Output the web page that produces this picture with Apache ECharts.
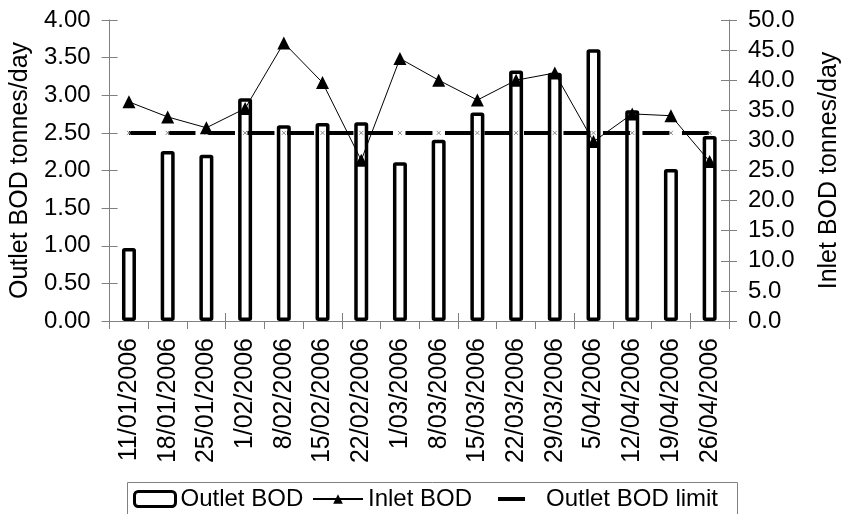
<!DOCTYPE html>
<html>
<head>
<meta charset="utf-8">
<script src="https://cdn.jsdelivr.net/npm/echarts@6/dist/echarts.min.js"></script>
<style>
  html, body { margin: 0; padding: 0; background: #fff; }
  #chart { width: 850px; height: 514px; }
</style>
</head>
<body>
<div id="chart"></div>
<script>
// Weekly sampling dates
const dates = [
  '11/01/2006', '18/01/2006', '25/01/2006', '1/02/2006', '8/02/2006', '15/02/2006',
  '22/02/2006', '1/03/2006', '8/03/2006', '15/03/2006', '22/03/2006', '29/03/2006',
  '5/04/2006', '12/04/2006', '19/04/2006', '26/04/2006'
];
// Outlet BOD, tonnes/day (left axis)
const outletBOD = [0.97, 2.26, 2.21, 2.96, 2.60, 2.63, 2.64, 2.11,
                   2.41, 2.77, 3.33, 3.30, 3.61, 2.80, 2.02, 2.46];
// Inlet BOD, tonnes/day (right axis)
const inletBOD = [36.4, 33.9, 32.1, 35.3, 46.2, 39.6, 26.7, 43.6,
                  40.0, 36.7, 40.0, 41.2, 29.8, 34.4, 34.1, 26.5];
// Outlet BOD limit, tonnes/day
const outletLimit = [2.5, 2.5, 2.5, 2.5, 2.5, 2.5, 2.5, 2.5,
                     2.5, 2.5, 2.5, 2.5, 2.5, 2.5, 2.5, 2.5];
// Axis ranges
const leftAxis = { min: 0, max: 4, interval: 0.5 };
const rightAxis = { min: 0, max: 50, interval: 5 };

const FONT = 'Liberation Sans, Arial, sans-serif';
const GREY = '#808080';

const chart = echarts.init(document.getElementById('chart'), null, { renderer: 'canvas' });

// Two axes on each side: one carries outward ticks, the other inward ticks,
// so every tick mark crosses its axis line.
function yPair(pos, range, decimals, name, nameGap) {
  return [
    {
      type: 'value', position: pos, min: range.min, max: range.max, interval: range.interval,
      name: name, nameLocation: 'middle', nameGap: nameGap, nameRotate: 90,
      nameTextStyle: { fontFamily: FONT, fontSize: 25, color: '#000' },
      axisLine: { show: true, lineStyle: { color: GREY, width: 1 } },
      axisTick: { show: true, inside: false, length: 8, lineStyle: { color: GREY } },
      axisLabel: { margin: 19, fontFamily: FONT, fontSize: 24, color: '#000',
                   formatter: v => v.toFixed(decimals) },
      splitLine: { show: false }
    },
    {
      type: 'value', position: pos, min: range.min, max: range.max, interval: range.interval,
      axisLine: { show: false },
      axisTick: { show: true, inside: true, length: 8, lineStyle: { color: GREY } },
      axisLabel: { show: false },
      splitLine: { show: false }
    }
  ];
}

const option = {
  backgroundColor: '#fff',
  animation: false,
  grid: { left: 109, right: 109, top: 20, bottom: 193, containLabel: false },
  xAxis: [
    {
      type: 'category', data: dates, position: 'bottom', boundaryGap: true,
      axisLine: { show: true, lineStyle: { color: GREY, width: 1 } },
      axisTick: { show: true, inside: false, length: 8, lineStyle: { color: GREY } },
      axisLabel: { rotate: 90, margin: 17, interval: 0, fontFamily: FONT, fontSize: 25, color: '#000' }
    },
    {
      type: 'category', data: dates, position: 'bottom', boundaryGap: true,
      axisLine: { show: false },
      axisTick: { show: true, inside: true, length: 8, lineStyle: { color: GREY } },
      axisLabel: { show: false }
    }
  ],
  yAxis: [
    ...yPair('left', leftAxis, 2, 'Outlet BOD tonnes/day', 66),
    ...yPair('right', rightAxis, 1, 'Inlet BOD tonnes/day', 88)
  ],
  legend: [
    {
      data: ['Outlet BOD'], left: 133, top: 487, padding: 0,
      itemWidth: 41, itemHeight: 15,
      itemStyle: { color: '#fff', borderColor: '#000', borderWidth: 3 },
      textStyle: { fontFamily: FONT, fontSize: 24, color: '#000' }
    },
    {
      data: ['Inlet BOD'], left: 312, top: 487, padding: 0,
      itemWidth: 50, itemHeight: 12,
      textStyle: { fontFamily: FONT, fontSize: 24, color: '#000' }
    },
    {
      data: [{ name: 'Outlet BOD limit', icon: 'rect' }], left: 498, top: 487, padding: 0,
      itemWidth: 27, itemHeight: 4,
      itemStyle: { color: '#000', borderWidth: 0 },
      textStyle: { fontFamily: FONT, fontSize: 24, color: '#000', padding: [0, 0, 0, 16] }
    }
  ],
  graphic: [
    {
      type: 'rect', left: 125, top: 480, silent: true,
      shape: { width: 610, height: 33 },
      style: { fill: 'none', stroke: GREY, lineWidth: 1 }
    }
  ],
  series: [
    {
      name: 'Outlet BOD', type: 'bar', xAxisIndex: 0, yAxisIndex: 0,
      data: outletBOD, barWidth: 14,
      itemStyle: { color: '#fff', borderColor: '#000', borderWidth: 3.5, borderRadius: 1 }
    },
    {
      name: 'Outlet BOD limit', type: 'line', xAxisIndex: 0, yAxisIndex: 0,
      data: outletLimit,
      symbol: 'path://M0,0L10,10M10,0L0,10', symbolSize: 4,
      itemStyle: { color: '#888', borderColor: '#888', borderWidth: 1 },
      lineStyle: { color: '#000', width: 4, type: [27, 12.5] },
      z: 3
    },
    {
      name: 'Inlet BOD', type: 'line', xAxisIndex: 0, yAxisIndex: 2,
      data: inletBOD,
      symbol: 'triangle', symbolSize: 13,
      itemStyle: { color: '#000' },
      lineStyle: { color: '#000', width: 1 },
      z: 4
    }
  ]
};

chart.setOption(option);
</script>
</body>
</html>
